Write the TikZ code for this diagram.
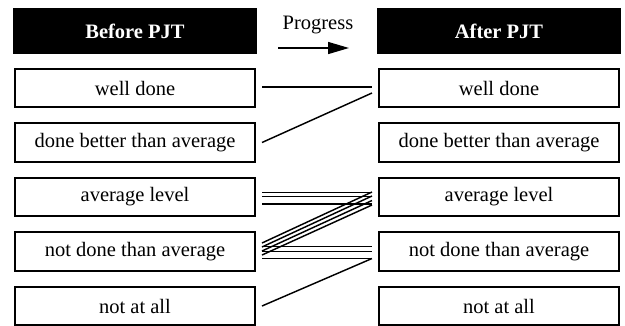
\documentclass[tikz,border=0pt]{standalone}
\usepackage{fontspec}
\setmainfont{Liberation Serif}
\usepackage{tikz}
\usetikzlibrary{positioning}
\usetikzlibrary{arrows.meta}

\begin{document}
\begin{tikzpicture}
[
x=1pt, y=1pt,
level-box/.style={rectangle,draw,line width=1.8pt,outer sep=0pt,minimum width=240pt,minimum height=38.5pt,inner sep=0pt,font=\fontsize{20.5}{24}\selectfont},
head-box/.style={rectangle,fill=black,outer sep=0pt,minimum width=244pt,minimum height=46pt,inner sep=0pt,text=white,font=\fontsize{20.5}{24}\selectfont\bfseries},
move/.style={line width=1.45pt},
]
\useasboundingbox (0,-325) rectangle (625,0);
% before
\node (l1) [level-box] at (135,-88)            {well done};
\node (l2) [level-box, below = 16pt of l1]     {done better than average};
\node (l3) [level-box, below = 16pt of l2]     {average level};
\node (l4) [level-box, below = 16pt of l3]     {not done than average};
\node (l5) [level-box, below = 16pt of l4]     {not at all};
% after
\node (r1) [level-box, right = 124pt of l1]    {well done};
\node (r2) [level-box, right = 124pt of l2]    {done better than average};
\node (r3) [level-box, right = 124pt of l3]    {average level};
\node (r4) [level-box, right = 124pt of l4]    {not done than average};
\node (r5) [level-box, right = 124pt of l5]    {not at all};
% heads
\node (hl) [head-box, above = 14.5pt of l1]    {Before PJT};
\node (hr) [head-box, above = 14.5pt of r1]    {After PJT};
\node (pg) [font=\fontsize{20.5}{24}\selectfont] at (318,-25) {Progress};
\coordinate (pg-s) at (278,-48);
\coordinate (pg-e) at (349,-48);
\draw [line width=1.5pt, -{Triangle[length=21pt,width=12pt]}] (pg-s) -- (pg-e);
% moves
\draw [move] ([shift={(7,1)}]l1.east) -- ([shift={(-7,1)}]r1.west);
\draw [move] ([shift={(7,0)}]l2.east) -- ([shift={(-7,-5)}]r1.west);
\foreach \a in {4.5,0.5,-7}
  \draw [move] ([shift={(7,\a)}]l3.east) -- ([shift={(-7,\a)}]r3.west);
\foreach \a/\b in {8.5/5,4.5/1,0.5/-3.5,-3.5/-8}
  \draw [move] ([shift={(7,\a)}]l4.east) -- ([shift={(-7,\b)}]r3.west);
\foreach \a in {5,0,-7}
  \draw [move] ([shift={(7,\a)}]l4.east) -- ([shift={(-7,\a)}]r4.west);
\draw [move] ([shift={(7,0)}]l5.east) -- ([shift={(-7,-7)}]r4.west);
\end{tikzpicture}
\end{document}
